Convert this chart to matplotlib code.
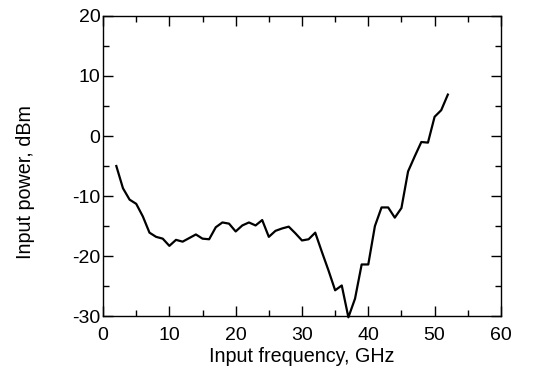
import numpy as np
import matplotlib
matplotlib.use("Agg")
import matplotlib.pyplot as plt
from matplotlib.ticker import MultipleLocator

plt.rcParams['font.family'] = ['Liberation Sans', 'DejaVu Sans']
plt.rcParams['axes.unicode_minus'] = False

freq = list(range(2, 53))
power = [-5.0, -8.7, -10.6, -11.3, -13.4, -16.1, -16.8, -17.1, -18.3, -17.3,
         -17.6, -17.0, -16.4, -17.1, -17.2, -15.2, -14.4, -14.6, -15.9, -14.9,
         -14.4, -14.9, -14.0, -16.8, -15.8, -15.4, -15.1, -16.2, -17.4, -17.2,
         -16.1, -19.3, -22.4, -25.7, -24.9, -30.2, -27.1, -21.4, -21.4, -15.0,
         -11.9, -11.9, -13.6, -12.0, -5.9, -3.4, -1.0, -1.1, 3.2, 4.3, 6.9]

fig = plt.figure(figsize=(5.34, 3.71), dpi=100)
ax = fig.add_axes([0.193, 0.148, 0.745, 0.809])
ax.plot(freq, power, color="black", lw=1.6, clip_on=False)

ax.set_xlim(0, 60)
ax.set_ylim(-30, 20)
ax.xaxis.set_major_locator(MultipleLocator(10))
ax.xaxis.set_minor_locator(MultipleLocator(5))
ax.yaxis.set_major_locator(MultipleLocator(10))
ax.yaxis.set_minor_locator(MultipleLocator(5))
ax.tick_params(which="both", direction="in", top=True, right=True,
               labelsize=14, width=1)
ax.tick_params(axis="x", pad=8)
ax.tick_params(axis="y", pad=2)
ax.tick_params(which="major", length=7)
ax.tick_params(which="minor", length=4)
for s in ax.spines.values():
    s.set_linewidth(1)

ax.set_xlabel("Input frequency, GHz", fontsize=14.2, labelpad=2)
ax.set_ylabel("Input power, dBm", fontsize=14.2)
ax.yaxis.set_label_coords(-0.172, 0.447)

fig.savefig("out.png", dpi=100)
plt.close(fig)
